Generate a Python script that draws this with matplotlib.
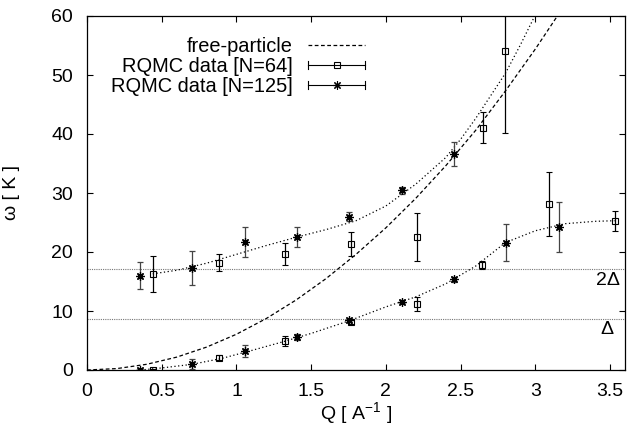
"""Excitation spectrum of liquid helium: RQMC data vs free-particle curve."""

import matplotlib
matplotlib.use("Agg")
import matplotlib.pyplot as plt
from matplotlib.lines import Line2D
from matplotlib.legend_handler import HandlerBase

plt.rcParams["font.family"] = ["Liberation Sans", "DejaVu Sans"]
plt.rcParams["mathtext.fontset"] = "custom"
plt.rcParams["mathtext.rm"] = "Liberation Sans"

# RQMC data, N=64 (squares): Q, omega, error
q_64 = [0.442, 0.886, 1.327, 1.765, 2.209, 2.650, 2.800, 3.090, 3.532,
        0.442, 0.886, 1.327, 1.765, 2.209, 2.646]
w_64 = [16.3, 18.2, 19.7, 21.4, 22.5, 41.1, 54.1, 28.1, 25.25,
        0.0, 2.1, 4.9, 8.2, 11.2, 17.85]
err_64 = [3.1, 1.5, 1.9, 2.05, 4.1, 2.6, 13.9, 5.4, 1.65,
          0.15, 0.4, 0.8, 0.4, 1.2, 0.7]

# RQMC data, N=125 (stars)
q_125 = [0.355, 0.705, 1.056, 1.406, 1.754, 2.108, 2.456, 3.161,
         0.355, 0.705, 1.056, 1.406, 1.754, 2.108, 2.456, 2.807]
w_125 = [16.0, 17.3, 21.7, 22.6, 26.0, 30.5, 36.6, 24.3,
         0.0, 1.0, 3.2, 5.65, 8.4, 11.6, 15.4, 21.6]
err_125 = [2.25, 2.9, 2.5, 1.7, 0.8, 0.6, 2.1, 4.25,
           0.2, 0.8, 1.0, 0.5, 0.3, 0.3, 0.4, 3.15]

# free-particle curve
q_free = [0.0, 0.2, 0.4, 0.6, 0.8, 1.0, 1.2, 1.4, 1.6, 1.8, 2.0,
          2.2, 2.4, 2.6, 2.8, 3.0, 3.2]
w_free = [0.0, 0.24, 0.97, 2.18, 3.88, 6.06, 8.73, 11.88, 15.5, 19.6,
          24.1, 29.1, 34.6, 40.6, 47.3, 54.4, 62.0]

# dotted guide curves through the two branches
q_fit_hi = [0.44, 0.6, 0.8, 1.0, 1.2, 1.4, 1.6, 1.8, 2.0, 2.2, 2.4,
            2.5, 2.6, 2.8, 2.9, 3.0]
w_fit_hi = [16.3, 16.9, 18.1, 19.6, 21.1, 22.5, 23.8, 25.3, 27.8, 31.5,
            36.0, 39.1, 42.6, 50.3, 55.1, 60.2]
q_fit_lo = [0.36, 0.5, 0.7, 0.9, 1.1, 1.3, 1.5, 1.75, 2.0, 2.2, 2.4,
            2.6, 2.8, 3.0, 3.2, 3.4, 3.53]
w_fit_lo = [0.0, 0.35, 0.95, 1.95, 3.3, 4.7, 6.2, 8.3, 10.7, 12.4, 14.6,
            17.6, 21.6, 23.6, 24.8, 25.2, 25.3]

gap = 8.6  # roton gap Delta [K]

FS = 14
FS_LEG = 14.4
star = (8, 2, 0)


class GnuErrHandler(HandlerBase):
    """gnuplot-like legend sample: horizontal bar with end caps and a marker."""

    def __init__(self, marker, ms):
        super().__init__()
        self.marker = marker
        self.ms = ms

    def create_artists(self, legend, orig_handle, xdescent, ydescent,
                       width, height, fontsize, trans):
        y = height / 2 - ydescent
        x0, x1 = -xdescent, width - xdescent
        cap = height * 0.28
        arts = [
            Line2D([x0, x1], [y, y], color="black", lw=0.8),
            Line2D([x0, x0], [y - cap, y + cap], color="black", lw=0.8),
            Line2D([x1, x1], [y - cap, y + cap], color="black", lw=0.8),
            Line2D([(x0 + x1) / 2], [y], marker=self.marker, ms=self.ms,
                   mfc="none", mec="black", mew=0.8, ls="none"),
        ]
        for a in arts:
            a.set_transform(trans)
        return arts


fig = plt.figure(figsize=(6.29, 4.34), dpi=100)
ax = fig.add_axes([87 / 629, 1 - 370 / 434, 538 / 629, 354 / 434])

# gap lines
ax.axhline(gap, color="#777777", lw=0.8, ls=(0, (1, 1)))
ax.axhline(2 * gap, color="#777777", lw=0.8, ls=(0, (1, 1)))

ax.plot(q_free, w_free, color="black", lw=0.9, ls=(0, (3, 2)))
ax.plot(q_fit_hi, w_fit_hi, color="black", lw=0.9, ls=(0, (1, 2)))
ax.plot(q_fit_lo, w_fit_lo, color="black", lw=0.9, ls=(0, (1, 2)))

ax.errorbar(q_64, w_64, yerr=err_64, fmt="s", ms=5, mfc="none", mec="black",
            mew=0.8, ecolor="black", elinewidth=0.9, capsize=2.2, capthick=0.9)
ax.errorbar(q_125, w_125, yerr=err_125, fmt="none", ecolor="#444444",
            elinewidth=0.9, capsize=2.2, capthick=0.9)
ax.plot(q_125, w_125, ls="none", marker=star, ms=6, mec="black", mew=0.9)

ax.text(3.485, 15.1, "2Δ", fontsize=FS, ha="center", va="center")
ax.text(3.48, 6.8, "Δ", fontsize=FS, ha="center", va="center")

ax.set_xlim(0, 3.6)
ax.set_ylim(0, 60)
ax.set_xticks([0, 0.5, 1, 1.5, 2, 2.5, 3, 3.5])
ax.set_xticklabels(["0", "0.5", "1", "1.5", "2", "2.5", "3", "3.5"])
ax.set_yticks(range(0, 61, 10))
ax.tick_params(direction="in", length=4.5, width=0.8, labelsize=FS,
               top=True, right=True)
ax.tick_params(axis="x", pad=9)
ax.tick_params(axis="y", pad=10)
for s in ax.spines.values():
    s.set_linewidth(0.9)

ax.set_xlabel(r"Q [ A$^{-1}$ ]", fontsize=FS, labelpad=1)
ax.set_ylabel("ω [ K ]", fontsize=FS)
ax.yaxis.set_label_coords(-0.125, 0.5)

h_free = Line2D([], [], color="black", lw=0.9, ls=(0, (3, 2)))
h_64 = Line2D([], [], color="black")
h_125 = Line2D([], [], color="black", ls="--")
ax.legend([h_free, h_64, h_125],
          ["free-particle", "RQMC data [N=64]", "RQMC data [N=125]"],
          handler_map={h_64: GnuErrHandler("s", 5), h_125: GnuErrHandler(star, 6)},
          loc="upper right", bbox_to_anchor=(375 / 629, 1 - 27 / 434),
          bbox_transform=fig.transFigure, frameon=False, markerfirst=False,
          fontsize=FS_LEG, borderpad=0, handlelength=2.85, handletextpad=0.75,
          labelspacing=0.05)

fig.savefig("out.png", dpi=100)
